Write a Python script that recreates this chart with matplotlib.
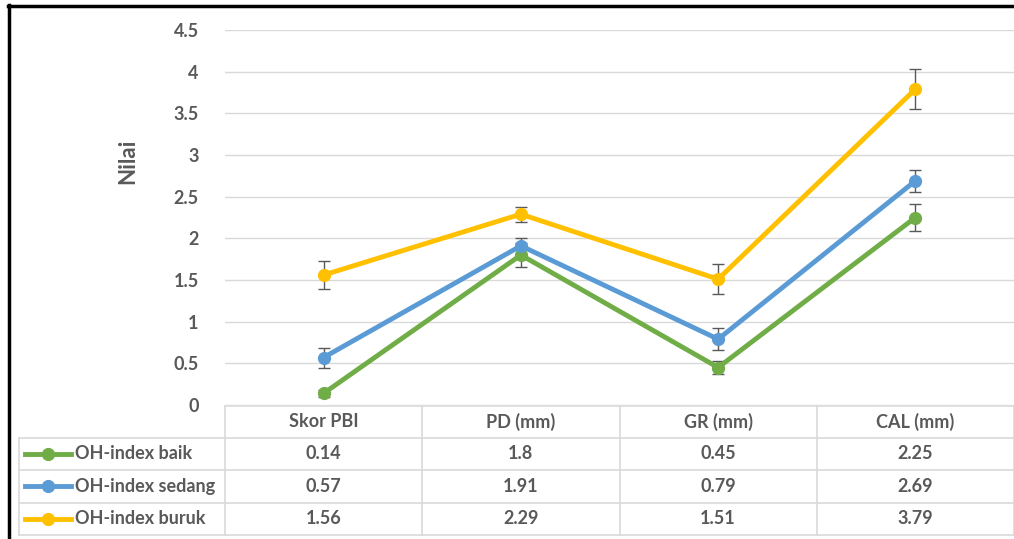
import numpy as np
import matplotlib.pyplot as plt
from matplotlib.lines import Line2D

# --- data ---
categories = ["Skor PBI", "PD (mm)", "GR (mm)", "CAL (mm)"]
series_names = ["OH-index baik", "OH-index sedang", "OH-index buruk"]
baik = [0.14, 1.8, 0.45, 2.25]
sedang = [0.57, 1.91, 0.79, 2.69]
buruk = [1.56, 2.29, 1.51, 3.79]
err_baik = [0.04, 0.14, 0.08, 0.16]
err_sedang = [0.12, 0.10, 0.13, 0.13]
err_buruk = [0.17, 0.09, 0.18, 0.24]
yticks = [0, 0.5, 1, 1.5, 2, 2.5, 3, 3.5, 4, 4.5]

colors = ["#70AD47", "#5B9BD5", "#FFC000"]
values = [baik, sedang, buruk]
errors = [err_baik, err_sedang, err_buruk]
txt = "#595959"
grid = "#D9D9D9"
fs = 13

plt.rcParams["font.family"] = ["Lato", "DejaVu Sans"]
plt.rcParams["font.weight"] = "bold"

W, H = 1014, 539
fig = plt.figure(figsize=(W / 100, H / 100), dpi=100)

# plot area in pixel coords
px_left, px_right, px_top, px_bottom = 225, 1014, 30, 405
ax = fig.add_axes([px_left / W, 1 - px_bottom / H, (px_right - px_left) / W, (px_bottom - px_top) / H])
x = np.arange(len(categories))
for vals, errs, c in zip(values, errors, colors):
    ax.errorbar(x, vals, yerr=errs, fmt="none", ecolor=txt, elinewidth=1, capsize=4, capthick=1, zorder=2)
    ax.plot(x, vals, color=c, lw=3.5, marker="o", ms=8.5, zorder=3)
ax.set_xlim(-0.5, len(categories) - 0.5)
ax.set_ylim(0, 4.5)
ax.set_yticks(yticks)
ax.set_yticklabels([f"{t:g}" for t in yticks], fontsize=fs, color=txt, fontweight="bold")
ax.tick_params(axis="y", length=0, pad=19)
ax.set_xticks([])
for t in yticks:
    ax.axhline(t, color=grid, lw=1, zorder=1)
for s in ax.spines.values():
    s.set_visible(False)
ax.set_facecolor("none")
fig.text(128 / W, 1 - 161 / H, "Nilai", rotation=90, ha="center", va="center",
         fontsize=16, color=txt, fontweight="bold")

# data table below the plot, laid out in pixel coords
tab = fig.add_axes([0, 0, 1, 1])
tab.set_xlim(0, W)
tab.set_ylim(H, 0)
tab.axis("off")
col_w = (px_right - px_left) / len(categories)
row_y = [406, 437.5, 470, 502.5, 535]
legend_left = 19
lc = dict(color=grid, lw=1.2)
# horizontal lines
tab.plot([px_left, px_right], [row_y[0], row_y[0]], **lc)
for yy in row_y[1:]:
    tab.plot([legend_left, px_right], [yy, yy], **lc)
# vertical lines
tab.plot([legend_left, legend_left], [row_y[1], row_y[-1]], **lc)
for i in range(len(categories) + 1):
    xx = px_left + i * col_w
    tab.plot([xx, xx], [row_y[0], row_y[-1]], **lc)
for i, cat in enumerate(categories):
    tab.text(px_left + (i + 0.5) * col_w, (row_y[0] + row_y[1]) / 2, cat, ha="center", va="center",
             fontsize=fs, color=txt, fontweight="bold")
for r, (name, vals, c) in enumerate(zip(series_names, values, colors)):
    yc = (row_y[r + 1] + row_y[r + 2]) / 2
    tab.add_line(Line2D([25, 71], [yc, yc], color=c, lw=3.5))
    tab.plot([48], [yc], marker="o", ms=8.5, color=c)
    tab.text(75, yc, name, ha="left", va="center", fontsize=fs, color=txt, fontweight="bold")
    for i, v in enumerate(vals):
        tab.text(px_left + (i + 0.5) * col_w, yc, f"{v:g}", ha="center", va="center",
                 fontsize=fs, color=txt, fontweight="bold")

# frame fragments (top and left border)
tab.plot([8, W], [6, 6], color="black", lw=2.5)
tab.plot([9, 9], [5, H], color="black", lw=2.5)

fig.savefig("out.png", dpi=100)
